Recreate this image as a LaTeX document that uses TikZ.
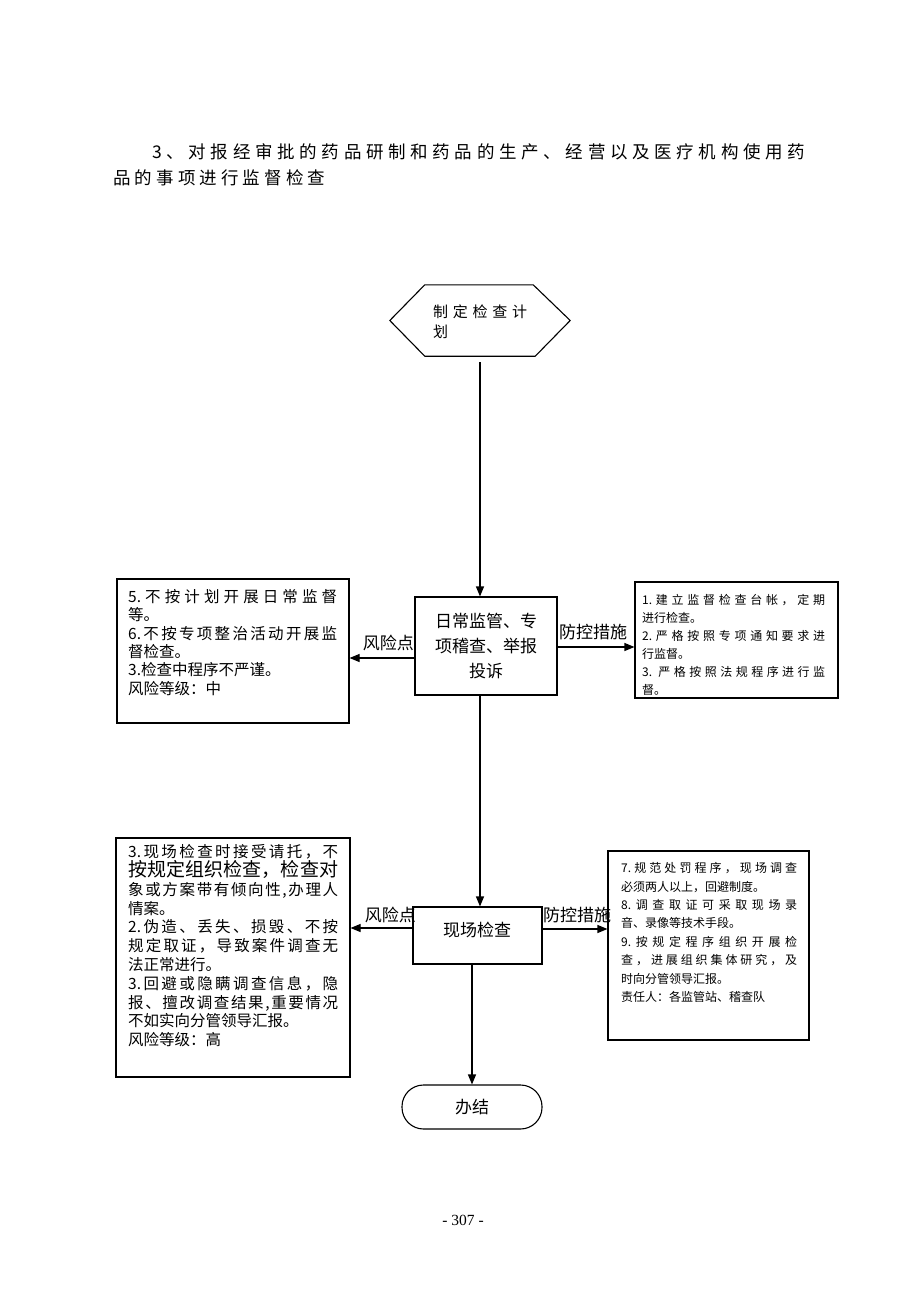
\documentclass[tikz,border=0pt]{standalone}
\usepackage{fontspec}
\setmainfont{Noto Sans CJK SC}
\newfontfamily\pnfont{Liberation Serif}
\usetikzlibrary{arrows.meta,calc}
\def\endspread{ENDSPREAD}
\def\jlfirst#1{#1\jlrest}
\def\jlrest#1{\ifx#1\endspread\else\hfil#1\expandafter\jlrest\fi}
\newcommand\jl[2]{\hbox to #1pt{\jlfirst#2\endspread}}
\begin{document}
\begin{tikzpicture}[x=1pt,y=-1pt,
  box/.style={draw,line width=1.1pt,inner sep=0},
  conn/.style={line width=1.1pt,-{Triangle[length=10pt,width=8pt]}},
  lbl/.style={inner sep=0,font=\fontsize{17}{20}\selectfont},
  txt/.style={inner sep=0,align=left,anchor=base west}]
\fill[white] (0,0) rectangle (920,1302);
\useasboundingbox (0,0) rectangle (920,1302);

% title
\node[txt,font=\fontsize{17.5}{20}\selectfont] (t1) at (152,158.5) {\jl{653}{3、对报经审批的药品研制和药品的生产、经营以及医疗机构使用药}};
\node[txt,font=\fontsize{17.5}{20}\selectfont] (t2) at (113,184.5) {\jl{212}{品的事项进行监督检查}};

% hexagon
\node[inner sep=0,minimum width=180pt,minimum height=71pt] (hex) at (480,320.5) {};
\draw[line width=1.1pt] (hex.west) -- ($(hex.north west)+(35,0)$) -- ($(hex.north east)+(-37,0)$) -- (hex.east) -- ($(hex.south east)+(-35,0)$) -- ($(hex.south west)+(35,0)$) -- cycle;
\node[txt,font=\fontsize{15}{20}\selectfont] (hext) at (433,337.4) {\jl{94}{制定检查计}\\划};

% box 1
\node[box,minimum width=142pt,minimum height=98pt,align=center,font=\fontsize{17}{25}\selectfont] (b1) at (486,646) {日常监管、专\\项稽查、举报\\投诉};

% left box 1
\node[box,minimum width=232pt,minimum height=144pt] (lb1) at (233,651) {};
\node[txt,font=\fontsize{15.5}{18.3}\selectfont] (lb1t) at (128,694) {\jl{209}{{5.}不按计划开展日常监督}\\等。\\\jl{209}{{6.}不按专项整治活动开展监}\\督检查。\\3.检查中程序不严谨。\\风险等级：中};

% right box 1
\node[box,minimum width=203pt,minimum height=116pt] (rb1) at (736.5,640) {};
\node[txt,font=\fontsize{12}{18}\selectfont] (rb1t) at (642,694.6) {\jl{183}{{1.}建立监督检查台帐，定期}\\进行检查。\\\jl{183}{{2.}严格按照专项通知要求进}\\行监督。\\\jl{183}{{3.\ }严格按照法规程序进行监}\\督。};

% box 2
\node[box,minimum width=129pt,minimum height=57pt] (b2) at (477.5,935.5) {};
\node[lbl] (b2t) at (477,930) {现场检查};

% left box 2
\node[box,minimum width=234pt,minimum height=239pt] (lb2) at (233,957.5) {};
\node[txt,font=\fontsize{15.5}{18.8}\selectfont] (lb2t) at (128,1045.6) {\jl{210}{{3.}现场检查时接受请托，不}\\{\fontsize{19}{18.8}\selectfont\jl{210}{按规定组织检查，检查对}}\\\jl{210}{象或方案带有倾向性,办理人}\\情案。\\\jl{210}{{2.}伪造、丢失、损毁、不按}\\\jl{210}{规定取证，导致案件调查无}\\法正常进行。\\\jl{210}{{3.}回避或隐瞒调查信息，隐}\\\jl{210}{报、擅改调查结果,重要情况}\\不如实向分管领导汇报。\\风险等级：高};

% right box 2
\node[box,minimum width=201pt,minimum height=189pt] (rb2) at (708.5,945.5) {};
\node[txt,font=\fontsize{12}{18.4}\selectfont] (rb2t) at (621,1001.4) {\jl{176}{{7.}规范处罚程序，现场调查}\\必须两人以上，回避制度。\\\jl{176}{{8.}调查取证可采取现场录}\\音、录像等技术手段。\\\jl{176}{{9.}按规定程序组织开展检}\\\jl{176}{查，进展组织集体研究，及}\\时向分管领导汇报。\\责任人：各监管站、稽查队};

% end
\node[draw,line width=1.1pt,rounded corners=21.5pt,minimum width=140pt,minimum height=44pt,inner sep=0,font=\fontsize{17}{20}\selectfont] (end) at (472,1107) {办结};

% page number
\node[inner sep=0,font=\pnfont\fontsize{15.5}{18}\selectfont] (pn) at (463,1220) {- 307 -};

% connectors
\draw[conn] ($(hex.south)+(0,6)$) -- (hex.south |- b1.north);
\draw[conn] (hex.south |- b1.south) -- (hex.south |- b2.north);
\draw[conn] (end.north |- b2.south) -- (end.north);
\coordinate (a1) at ($(b1.west)+(0,12)$);
\draw[conn] (a1) -- (a1 -| lb1.east);
\coordinate (a2) at ($(b1.east)+(0,1)$);
\draw[conn] (a2) -- (a2 -| rb1.west);
\coordinate (a3) at ($(b2.west)+(0,-7.5)$);
\draw[conn] (a3) -- (a3 -| lb2.east);
\coordinate (a4) at ($(b2.east)+(0,-6.5)$);
\draw[conn] (a4) -- (a4 -| rb2.west);

% labels
\node[lbl,anchor=base east] (r1) at (414,649.5) {风险点};
\node[lbl,anchor=base west] (f1) at (559,638.6) {防控措施};
\node[lbl,anchor=base east] (r2) at (416,921.5) {风险点};
\node[lbl,anchor=base west] (f2) at (543,921.5) {防控措施};
\end{tikzpicture}
\end{document}
